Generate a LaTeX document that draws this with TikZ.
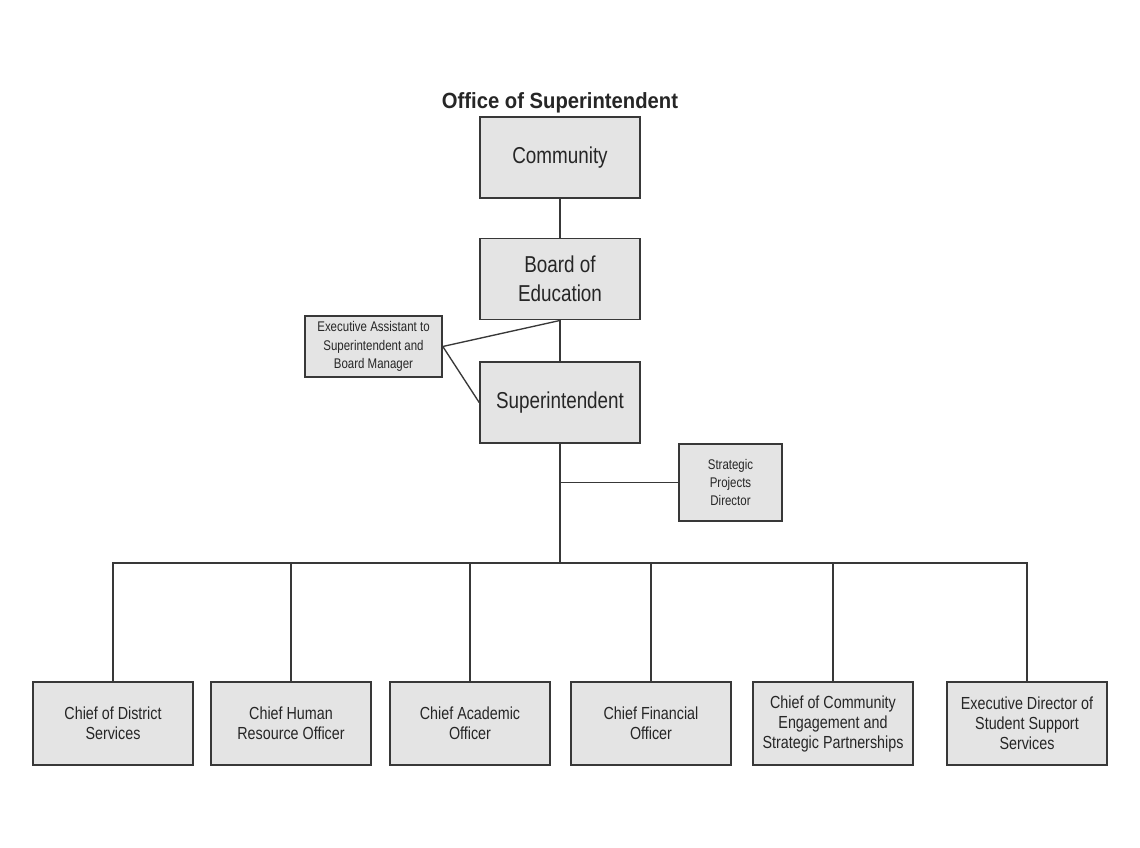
\documentclass[tikz,border=0pt]{standalone}
\usepackage{fontspec}
\setmainfont{Liberation Sans}[FakeStretch=0.82]
\newfontfamily\headfont{Liberation Sans}[FakeStretch=0.92]
\usepackage{xcolor}
\definecolor{BoxFill}{HTML}{E4E4E4}
\definecolor{BoxLine}{HTML}{383838}
\definecolor{Ink}{HTML}{262626}

\begin{document}
\begin{tikzpicture}[x=0.75pt,y=-0.75pt,every node/.style={text=Ink,align=center,inner sep=0pt},
  box/.style={draw=BoxLine,line width=1.2pt,fill=BoxFill},
  topbox/.style={box,minimum width=120pt,minimum height=61pt,font=\fontsize{17.25}{21.75}\selectfont},
  chiefbox/.style={box,minimum width=120pt,minimum height=62.25pt,font=\fontsize{13.1}{15}\selectfont},
  sidebox/.style={box,font=\fontsize{10.5}{13.75}\selectfont},
  link/.style={draw=BoxLine,line width=1pt}]
  \useasboundingbox[fill=white] (0,0) rectangle (1140,848);
  \node (title) at (560,103) {\headfont\bfseries\fontsize{16.5}{19}\selectfont Office of Superintendent};
  % top of the chart
  \node[topbox] (community) at (560,157.5) {Community};
  \node[topbox] (board) at (560,279) {Board of\\Education};
  \node[topbox] (super) at (560,402.5) {Superintendent};
  \node[sidebox,minimum width=102.75pt,minimum height=45.75pt] (assist) at (373.5,346.5) {Executive Assistant to\\Superintendent and\\Board Manager};
  \node[sidebox,minimum width=77.25pt,minimum height=57.75pt] (strat) at (730.5,482.5) {Strategic\\Projects\\Director};
  \draw[link] (community) -- (board);
  \draw[link] (board) -- (super);
  \draw[link] (board.south) -- (assist.east) -- (super.west);
  \draw[link] (strat.west) -- (strat.west -| super.south);
  % chiefs
  \foreach \n/\x/\t in {district/113/{Chief of District\\Services},
      human/291/{Chief Human\\Resource Officer},
      academic/470/{Chief Academic\\Officer},
      finance/651/{Chief Financial\\Officer},
      engage/833/{Chief of Community\\Engagement and\\Strategic Partnerships},
      student/1027/{Executive Director of\\Student Support\\Services}}{
    \node[chiefbox] (\n) at (\x,723.5) {\t};
  }
  \coordinate (bus) at (560,563);
  \draw[link] (super.south) -- (bus);
  \foreach \n in {district,human,academic,finance,engage,student}
    \draw[link] (bus) -| (\n.north);
\end{tikzpicture}
\end{document}
